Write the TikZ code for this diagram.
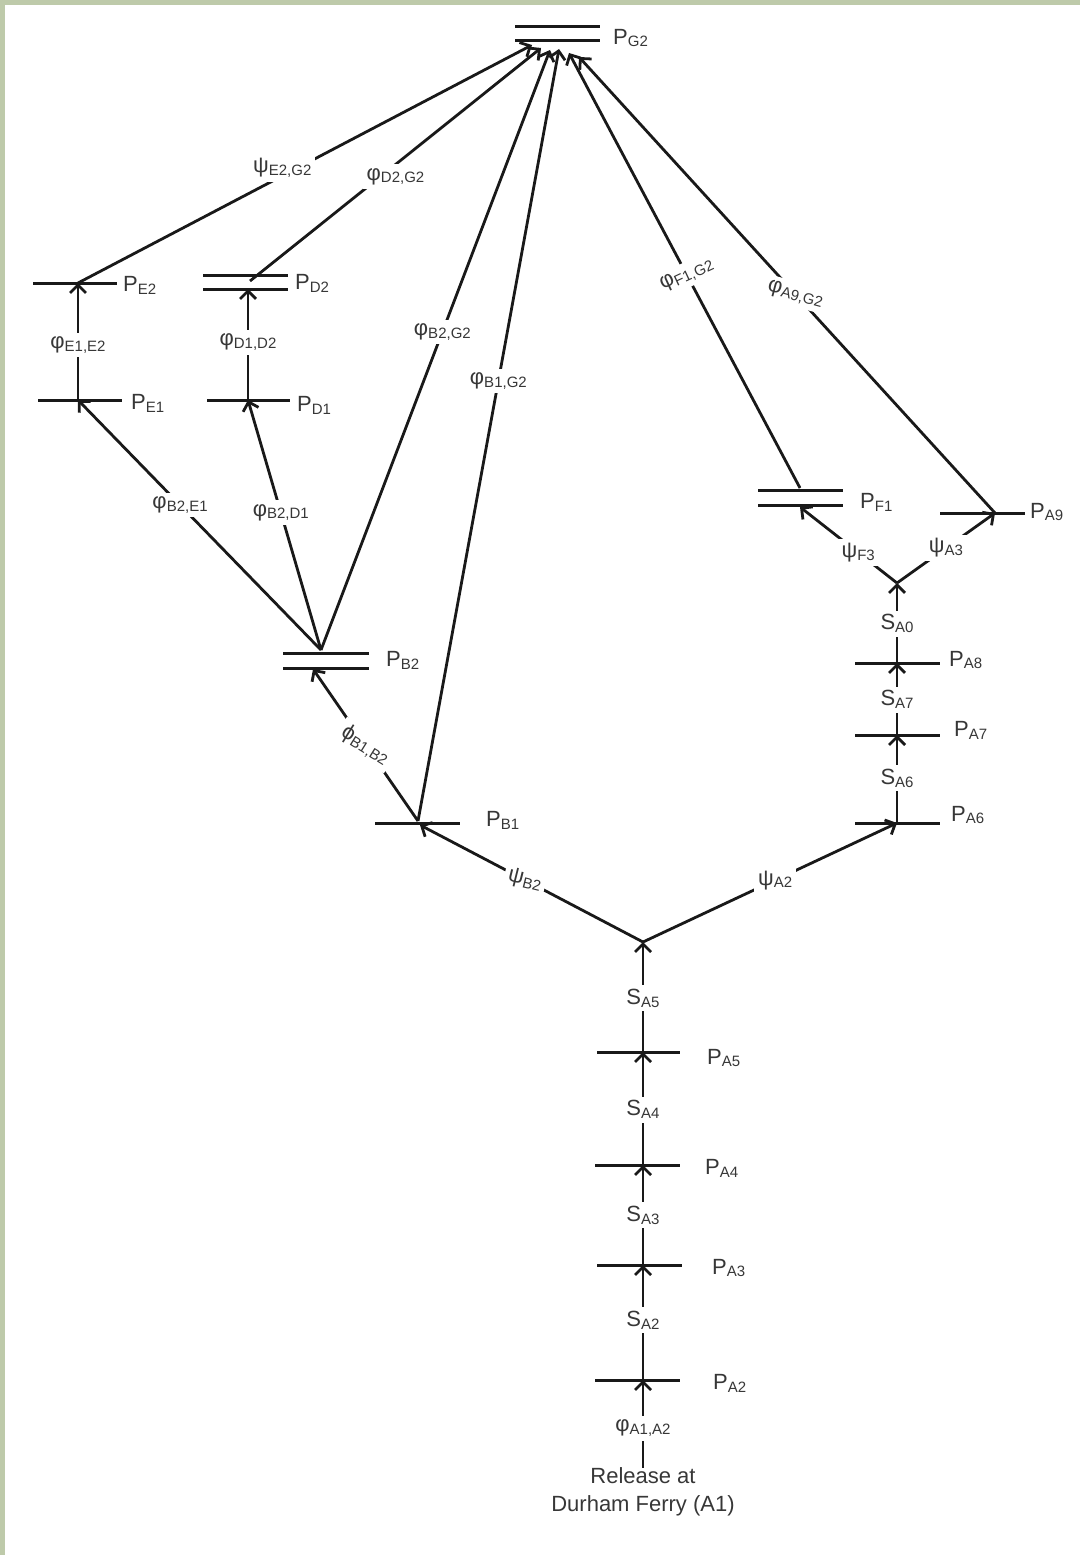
\documentclass[tikz,border=0pt]{standalone}
\usepackage{fontspec}
\setmainfont{Liberation Sans}
\usetikzlibrary{arrows.meta}
\definecolor{framegreen}{RGB}{190,202,170}
\definecolor{inkgray}{RGB}{55,55,55}
\newcommand{\lbl}[2]{#1\raisebox{-0.25ex}{\fontsize{15}{15}\selectfont #2}}

\begin{document}
\begin{tikzpicture}[x=1pt, y=-1pt,
  bar/.style={line width=3pt, draw=black!90},
  link/.style={line width=2.8pt, draw=black!90, -{Straight Barb[length=8pt,width=16pt]}},
  lab/.style={font=\fontsize{22}{28}\selectfont, text=inkgray, inner sep=1pt},
  cut/.style={lab, fill=white, inner sep=4pt}]

\useasboundingbox (0,0) rectangle (1080,1555);
% frame strip
\fill[framegreen] (0,0) rectangle (1080,5);
\fill[framegreen] (0,0) rectangle (5,1555);

% Goal G2
\draw[bar] (515,27) -- (600,27);
\draw[bar] (515,41) -- (600,41);
\node[lab, anchor=west] (lG2) at (612,38) {\lbl{P}{G2}};
\coordinate (gE2) at (532,45);
\coordinate (gD2) at (541,48);
\coordinate (gB2) at (550,50);
\coordinate (gB1) at (559,49);
\coordinate (gF1) at (569,53);
\coordinate (gA9) at (579,57);

% Left branch E and D
\draw[bar] (33,283) -- (117,283);
\coordinate (E2) at (78,283);
\node[lab, anchor=west] (lE2) at (122,285) {\lbl{P}{E2}};
\draw[bar] (38,400) -- (122,400);
\coordinate (E1) at (78,400);
\node[lab, anchor=west] (lE1) at (130,403) {\lbl{P}{E1}};
\draw[bar] (203,275) -- (288,275);
\draw[bar] (203,289) -- (288,289);
\coordinate (D2) at (248,289);
\coordinate (D2top) at (250,281);
\node[lab, anchor=west] (lD2) at (294,283) {\lbl{P}{D2}};
\draw[bar] (207,400) -- (290,400);
\coordinate (D1) at (248,400);
\node[lab, anchor=west] (lD1) at (296,405) {\lbl{P}{D1}};

% B branch
\draw[bar] (283,653) -- (369,653);
\draw[bar] (283,668) -- (369,668);
\coordinate (B2) at (321,650);
\coordinate (B2low) at (313,669);
\node[lab, anchor=west] (lB2) at (385,660) {\lbl{P}{B2}};
\draw[bar] (375,823) -- (460,823);
\coordinate (B1) at (418,821);
\coordinate (B1in) at (420,825);
\node[lab, anchor=west] (lB1) at (485,820) {\lbl{P}{B1}};

% right branch A and F
\draw[bar] (855,823) -- (940,823);
\coordinate (A6) at (897,823);
\node[lab, anchor=west] (lA6) at (950,815) {\lbl{P}{A6}};
\draw[bar] (855,735) -- (940,735);
\coordinate (A7) at (897,735);
\node[lab, anchor=west] (lA7) at (953,730) {\lbl{P}{A7}};
\draw[bar] (855,663) -- (940,663);
\coordinate (A8) at (897,663);
\node[lab, anchor=west] (lA8) at (948,660) {\lbl{P}{A8}};
\coordinate (J2) at (897,583);
\draw[bar] (758,490) -- (843,490);
\draw[bar] (758,505) -- (843,505);
\coordinate (F1) at (800,507);
\coordinate (F1top) at (800,488);
\node[lab, anchor=west] (lF1) at (859,502) {\lbl{P}{F1}};
\draw[bar] (940,513) -- (1025,513);
\coordinate (A9) at (995,513);
\node[lab, anchor=west] (lA9) at (1029,512) {\lbl{P}{A9}};

% trunk
\coordinate (J1) at (643,942);
\draw[bar] (597,1052) -- (680,1052);
\coordinate (A5) at (643,1052);
\node[lab, anchor=west] (lA5) at (706,1058) {\lbl{P}{A5}};
\draw[bar] (595,1165) -- (680,1165);
\coordinate (A4) at (643,1165);
\node[lab, anchor=west] (lA4) at (704,1168) {\lbl{P}{A4}};
\draw[bar] (597,1265) -- (682,1265);
\coordinate (A3) at (643,1265);
\node[lab, anchor=west] (lA3) at (711,1268) {\lbl{P}{A3}};
\draw[bar] (595,1380) -- (680,1380);
\coordinate (A2) at (643,1380);
\node[lab, anchor=west] (lA2) at (712,1383) {\lbl{P}{A2}};
\node[lab, align=center, inner sep=0pt] (rel) at (643,1492) {Release at\\Durham Ferry (A1)};

% movements along the trunk
\draw[link] (rel.north) -- node[cut, pos=.45] {\lbl{φ}{A1,A2}} (A2);
\draw[link] (A2) -- node[cut, pos=.52] {\lbl{S}{A2}} (A3);
\draw[link] (A3) -- node[cut, pos=.5] {\lbl{S}{A3}} (A4);
\draw[link] (A4) -- node[cut, pos=.49] {\lbl{S}{A4}} (A5);
\draw[link] (A5) -- node[cut, pos=.49] {\lbl{S}{A5}} (J1);
\draw[link] (J1) -- node[cut, pos=.53, rotate=-14] {\lbl{ψ}{B2}} (B1in);
\draw[link] (J1) -- node[cut, pos=.52] {\lbl{ψ}{A2}} (A6);

% right branch
\draw[link] (A6) -- node[cut, pos=.51] {\lbl{S}{A6}} (A7);
\draw[link] (A7) -- node[cut, pos=.49] {\lbl{S}{A7}} (A8);
\draw[link] (A8) -- node[cut, pos=.49] {\lbl{S}{A0}} (J2);
\draw[link] (J2) -- node[cut, pos=.4] {\lbl{ψ}{F3}} (F1);
\draw[link] (J2) -- node[cut, pos=.5] {\lbl{ψ}{A3}} (A9);
\draw[link] (F1top) -- node[cut, pos=.49, rotate=25] {\lbl{φ}{F1,G2}} (gF1);
\draw[link] (A9) -- node[cut, pos=.48, rotate=-15] {\lbl{φ}{A9,G2}} (gA9);

% B branch
\draw[link] (B1) -- node[cut, pos=.5, rotate=-32] {\lbl{ϕ}{B1,B2}} (B2low);
\draw[link] (B1) -- node[cut, pos=.57] {\lbl{φ}{B1,G2}} (gB1);
\draw[link] (B2) -- node[cut, pos=.53] {\lbl{φ}{B2,G2}} (gB2);
\draw[link] (B2) -- node[cut, pos=.58] {\lbl{φ}{B2,E1}} (E1);
\draw[link] (B2) -- node[cut, pos=.55] {\lbl{φ}{B2,D1}} (D1);

% E and D branches
\draw[link] (E1) -- node[cut, pos=.47] {\lbl{φ}{E1,E2}} (E2);
\draw[link] (D1) -- node[cut, pos=.52] {\lbl{φ}{D1,D2}} (D2);
\draw[link] (E2) -- node[cut, pos=.45, yshift=8pt] {\lbl{ψ}{E2,G2}} (gE2);
\draw[link] (D2top) -- node[cut, pos=.5, yshift=-12pt] {\lbl{φ}{D2,G2}} (gD2);

\end{tikzpicture}
\end{document}
